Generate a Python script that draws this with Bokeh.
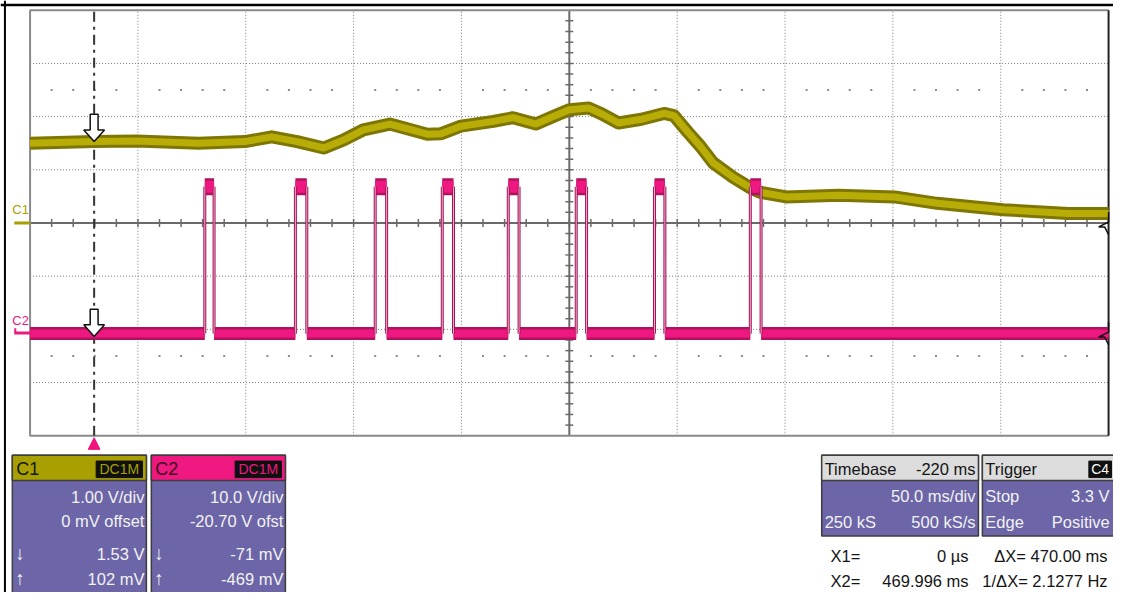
from bokeh.plotting import figure
from bokeh.models import Range1d
from bokeh.core.properties import value
from bokeh.embed import file_html
from bokeh.resources import INLINE

# ---------------- data ----------------
T_DIV = 50.0        # ms / div
T_LEFT = -29.7      # ms at left edge of graticule
N_XDIV = 10
N_YDIV = 8

C1_VDIV = 1.0       # V/div
C1_OFFSET = 0.0     # V
C2_VDIV = 10.0      # V/div
C2_OFFSET = -20.70  # V

cursor_x1 = 0.0     # ms
cursor_x2 = 469.996 # ms

# C1 (olive) trace, time in ms, value in V
c1_t = [-29.7, 0.0, 19.7, 48.4, 69.9, 82.3, 94.1, 106.5, 115.6, 124.8, 137.1,
        142.6, 154.5, 160.9, 170.0, 185.1, 194.2, 204.8, 213.9, 220.3, 229.4,
        235.4, 243.1, 253.7, 264.2, 268.8, 275.2, 281.1, 287.0, 296.2, 303.9,
        308.5, 320.8, 345.1, 371.1, 390.8, 421.4, 451.6, 470.3]
c1_v = [1.50, 1.53, 1.54, 1.50, 1.53, 1.62, 1.53, 1.41, 1.56, 1.75, 1.86,
        1.80, 1.67, 1.68, 1.82, 1.91, 1.98, 1.86, 2.02, 2.13, 2.16,
        2.05, 1.88, 1.95, 2.06, 2.02, 1.71, 1.44, 1.13, 0.86, 0.67,
        0.58, 0.49, 0.52, 0.49, 0.37, 0.25, 0.18, 0.18]

# C2 (pink) pulse train, edges in ms, levels in V
c2_rise = [51.3, 93.3, 130.3, 161.4, 192.0, 223.5, 259.8, 304.2]
c2_fall = [55.6, 98.6, 135.6, 166.6, 197.0, 228.3, 264.6, 309.2]
c2_low = -0.1
c2_high = 27.5

# ---------------- geometry (reference pixels scaled into the canvas) ----------------
W, H = 1113, 592
REF_W, REF_H = 1129, 608
SX, SY = W / REF_W, H / REF_H
GRID_L, GRID_R, GRID_T, GRID_B = 30, 1124, 10, 447   # reference pixels
PX_MS = (GRID_R - GRID_L) * SX / (N_XDIV * T_DIV)
PX_DIV = (GRID_B - GRID_T) * SY / N_YDIV
T_RIGHT = T_LEFT + N_XDIV * T_DIV

x_start = T_LEFT - GRID_L * SX / PX_MS
x_end = x_start + W / PX_MS
y_top = N_YDIV / 2 + GRID_T * SY / PX_DIV
y_bot = y_top - H / PX_DIV


def X(rx):
    return x_start + rx * SX / PX_MS


def Y(ry):
    return y_top - ry * SY / PX_DIV


def dx(n):
    return n * SX / PX_MS


def dy(n):
    return n * SY / PX_DIV


def c1_div(v):
    return (v + C1_OFFSET) / C1_VDIV


def c2_div(v):
    return (v + C2_OFFSET) / C2_VDIV


p = figure(width=W, height=H, x_range=Range1d(x_start, x_end),
           y_range=Range1d(y_bot, y_top), output_backend="svg",
           toolbar_location=None, min_border=0,
           x_axis_location=None, y_axis_location=None)
p.grid.visible = False
p.outline_line_color = None
p.background_fill_color = "white"
p.border_fill_color = "white"

FONT = value("Liberation Sans")
FS = "16.5px"
HALF = N_YDIV / 2

# ---------------- graticule ----------------
GRID_C = "#7C7C7C"
vx = [T_LEFT + k * T_DIV for k in range(1, N_XDIV) if k != N_XDIV // 2]
p.segment(x0=vx, y0=[-HALF] * len(vx), x1=vx, y1=[HALF] * len(vx),
          line_color=GRID_C, line_width=1, line_dash="1 2")
hy = [j for j in range(-3, 4) if j != 0]
p.segment(x0=[T_LEFT] * len(hy), y0=hy, x1=[T_RIGHT] * len(hy), y1=hy,
          line_color=GRID_C, line_width=1, line_dash="1 2")

# dot rows at +/-2.5 div
dots_x = [T_LEFT + i * T_DIV / 5 for i in range(1, N_XDIV * 5) if i % 5]
for yy in (2.5, -2.5):
    p.scatter(x=dots_x, y=[yy] * len(dots_x), marker="square", size=2,
              color="#8A8A8A", line_color=None)

# centre axes with minor ticks
tc = T_LEFT + N_XDIV / 2 * T_DIV
p.segment(x0=[T_LEFT], y0=[0], x1=[T_RIGHT], y1=[0], line_color="#6A6A6A", line_width=2)
p.segment(x0=[tc], y0=[-HALF], x1=[tc], y1=[HALF], line_color="#6A6A6A", line_width=2)
tx = [T_LEFT + i * T_DIV / 5 for i in range(1, N_XDIV * 5)]
p.segment(x0=tx, y0=[-dy(4)] * len(tx), x1=tx, y1=[dy(4)] * len(tx),
          line_color="#6A6A6A", line_width=1.5)
ty = [-HALF + i * 0.2 for i in range(1, N_YDIV * 5)]
p.segment(x0=[tc - dx(4)] * len(ty), y0=ty, x1=[tc + dx(4)] * len(ty), y1=ty,
          line_color="#6A6A6A", line_width=1.5)

# frame
p.line(x=[T_RIGHT, T_LEFT, T_LEFT, T_RIGHT], y=[HALF, HALF, -HALF, -HALF],
       line_color="#8A8A8A", line_width=2)
p.segment(x0=[T_RIGHT], y0=[HALF], x1=[T_RIGHT], y1=[-HALF], line_color="#222222", line_width=2)

# outer black border (left/top)
p.segment(x0=[X(4.5)], y0=[y_top], x1=[X(4.5)], y1=[y_bot], line_color="black", line_width=2)
p.segment(x0=[x_start], y0=[Y(4.5)], x1=[x_end], y1=[Y(4.5)], line_color="black", line_width=2.5)

# ---------------- cursor ----------------
p.segment(x0=[cursor_x1], y0=[-HALF], x1=[cursor_x1], y1=[HALF],
          line_color="#333333", line_width=2, line_dash="10 5 3 5")

# ---------------- C1 trace ----------------
c1_y = [c1_div(v) for v in c1_v]
p.line(x=c1_t, y=c1_y, line_color="#7E7600", line_width=13, line_join="round")
p.line(x=c1_t, y=c1_y, line_color="#B7AD06", line_width=7, line_join="round")

# ---------------- C2 trace ----------------
lo, hi = c2_div(c2_low), c2_div(c2_high)
low_x0 = [T_LEFT] + c2_fall
low_x1 = c2_rise + [T_RIGHT]
edges = c2_rise + c2_fall
for col, lw in (("#B0125E", 13), ("#EE1880", 8)):
    p.segment(x0=low_x0, y0=[lo] * len(low_x0), x1=low_x1, y1=[lo] * len(low_x1),
              line_color=col, line_width=lw, line_cap="butt")
    p.segment(x0=c2_rise, y0=[hi] * len(c2_rise), x1=c2_fall, y1=[hi] * len(c2_fall),
              line_color=col, line_width=lw + 4, line_cap="butt")
p.segment(x0=edges, y0=[lo] * len(edges), x1=edges, y1=[hi] * len(edges),
          line_color="#A01658", line_width=3)
p.segment(x0=edges, y0=[lo] * len(edges), x1=edges, y1=[hi] * len(edges),
          line_color="#F6A8CB", line_width=1)


# ---------------- cursor arrows on traces ----------------
def arrow(tip_y):
    xs = [cursor_x1, cursor_x1 - dx(10.5), cursor_x1 - dx(4), cursor_x1 - dx(4),
          cursor_x1 + dx(4), cursor_x1 + dx(4), cursor_x1 + dx(10.5)]
    ys = [tip_y, tip_y + dy(12), tip_y + dy(12), tip_y + dy(28),
          tip_y + dy(28), tip_y + dy(12), tip_y + dy(12)]
    p.patch(x=xs, y=ys, fill_color="white", line_color="#111111", line_width=1.5)


arrow(c1_div(c1_v[1]))
arrow(lo - dy(3))

# trigger marker
p.patch(x=[cursor_x1 - dx(6), cursor_x1 + dx(6), cursor_x1],
        y=[Y(461), Y(461), Y(449)], fill_color="#F0147C", line_color="#F0147C")

# ---------------- channel ground markers ----------------
OLIVE = "#A8A000"
PINK = "#EE1880"
g1, g2 = c1_div(0.0), c2_div(0.0)
p.segment(x0=[X(14)], y0=[g1], x1=[X(30)], y1=[g1], line_color=OLIVE, line_width=3)
p.segment(x0=[X(14)], y0=[g2], x1=[X(30)], y1=[g2], line_color=PINK, line_width=3)
p.segment(x0=[X(15)], y0=[g2], x1=[X(15)], y1=[g2 + dy(5)], line_color=PINK, line_width=2)
p.text(x=[X(12), X(12)], y=[g1 + dy(14), g2 + dy(13)], text=["C1", "C2"],
       text_color=[OLIVE, PINK], text_font=FONT, text_font_size=value("13px"),
       text_align="left", text_baseline="middle")

# right-edge overflow zigzags
for g in (g1, g2):
    zx = [T_RIGHT, T_RIGHT, T_RIGHT - dx(10), T_RIGHT - dx(4), T_RIGHT]
    zy = [g + dy(11), g + dy(1), g - dy(4), g - dy(4), g - dy(12)]
    p.line(x=zx, y=zy, line_color="#111111", line_width=1.5)

# ---------------- info panels ----------------
BODY = "#6C65A7"
EDGE = "#3E3E3E"
TXT = "#F2F2F2"
DARK = "#151515"


def box(l, r, t, b, fill, line=EDGE, lw=1.5):
    p.quad(left=[X(l)], right=[X(r)], top=[Y(t)], bottom=[Y(b)],
           fill_color=fill, line_color=line, line_width=lw)


def txt(x, y, s, color, size=FS, align="left"):
    p.text(x=[X(x)], y=[Y(y)], text=[s], text_color=color, text_font=FONT,
           text_font_size=value(size), text_align=align, text_baseline="middle")


# C1 / C2 panels
chan = [
    (12, 148, OLIVE, "C1", DARK, ["1.00 V/div", "0 mV offset", "1.53 V", "102 mV"]),
    (153, 289, PINK, "C2", "#3A0A1E", ["10.0 V/div", "-20.70 V ofst", "-71 mV", "-469 mV"]),
]
for l, r, col, name, ncol, lines in chan:
    box(l, r, 467, 612, BODY)
    box(l, r, 467, 493, col)
    txt(l + 4, 481, name, ncol, "18px")
    box(r - 51, r - 4, 473, 490, "#101010", line="#101010", lw=1)
    txt(r - 27.5, 481.5, "DC1M", col, "14px", "center")
    txt(r - 2, 510, lines[0], TXT, FS, "right")
    txt(r - 2, 535, lines[1], TXT, FS, "right")
    txt(l + 3, 568, "\u2193", TXT, "19px")
    txt(r - 2, 568, lines[2], TXT, FS, "right")
    txt(l + 3, 594, "\u2191", TXT, "19px")
    txt(r - 2, 594, lines[3], TXT, FS, "right")

# Timebase panel
box(833, 992, 467, 550, BODY)
box(833, 992, 467, 493, "#DCDCDC")
txt(836, 481, "Timebase", DARK)
txt(989, 481, "-220 ms", DARK, FS, "right")
txt(989, 509, "50.0 ms/div", TXT, FS, "right")
txt(836, 536, "250 kS", TXT)
txt(989, 536, "500 kS/s", TXT, FS, "right")

# Trigger panel
box(996, 1131, 467, 550, BODY)
box(996, 1131, 467, 493, "#DCDCDC")
txt(999, 481, "Trigger", DARK)
box(1104, 1127, 473, 490, "#101010", line="#101010", lw=1)
txt(1115.5, 481.5, "C4", "#FFFFFF", "14px", "center")
txt(999, 509, "Stop", TXT)
txt(1125, 509, "3.3 V", TXT, FS, "right")
txt(999, 536, "Edge", TXT)
txt(1125, 536, "Positive", TXT, FS, "right")

# cursor readouts
txt(842, 570, "X1=", DARK)
txt(982, 570, f"{cursor_x1:.0f} \u00b5s", DARK, FS, "right")
txt(1123, 570, "\u0394X= 470.00 ms", DARK, FS, "right")
txt(842, 596, "X2=", DARK)
txt(982, 596, f"{cursor_x2:.3f} ms", DARK, FS, "right")
txt(1123, 596, "1/\u0394X= 2.1277 Hz", DARK, FS, "right")

open("out.html", "w").write(file_html(p, INLINE))
